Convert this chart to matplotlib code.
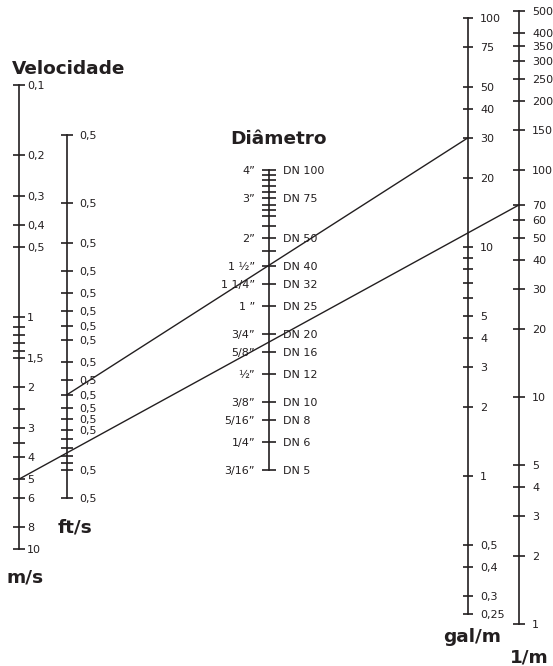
import matplotlib.pyplot as plt
from matplotlib.patches import ConnectionPatch
from matplotlib.ticker import NullFormatter

# velocity, m/s
ms_ticks = [0.1, 0.2, 0.3, 0.4, 0.5, 1, 1.5, 2, 3, 4, 5, 6, 8, 10]
ms_labels = ['0,1', '0,2', '0,3', '0,4', '0,5', '1', '1,5', '2', '3', '4', '5', '6', '8', '10']
ms_minor = [1.1, 1.2, 1.3, 1.4, 2.5, 3.5]

# velocity, ft/s (the original labels every tick "0,5")
fts_ticks = [0.5, 1, 1.5, 2, 2.5, 3, 3.5, 4, 5, 6, 7, 8, 9, 10, 15, 20]
fts_labels = ['0,5'] * len(fts_ticks)
fts_minor = [11, 12, 13, 14]

# diameter, inches / DN
dia_inch = [4, 3, 2, 1.5, 1.25, 1, 0.75, 0.625, 0.5, 0.375, 0.3125, 0.25, 0.1875]
dia_inch_labels = ['4”', '3”', '2”', '1 ½”', '1 1/4”', '1 ”', '3/4”', '5/8”',
                   '½”', '3/8”', '5/16”', '1/4”', '3/16”']
dia_dn_labels = ['DN 100', 'DN 75', 'DN 50', 'DN 40', 'DN 32', 'DN 25', 'DN 20',
                 'DN 16', 'DN 12', 'DN 10', 'DN 8', 'DN 6', 'DN 5']
dia_minor = [3.8, 3.6, 3.4, 3.2, 2.8, 2.65, 2.5, 2.25, 1.75]

# flow, gal/m
galm_ticks = [100, 75, 50, 40, 30, 20, 10, 5, 4, 3, 2, 1, 0.5, 0.4, 0.3, 0.25]
galm_labels = ['100', '75', '50', '40', '30', '20', '10', '5', '4', '3', '2', '1',
               '0,5', '0,4', '0,3', '0,25']
galm_minor = [9, 8, 7, 6]

# flow, l/m
lm_ticks = [500, 400, 350, 300, 250, 200, 150, 100, 70, 60, 50, 40, 30, 20, 10, 5, 4, 3, 2, 1]
lm_labels = [str(v) for v in lm_ticks]

# two example readings: (scale, value) -> (scale, value)
reading1 = ('fts', 7, 'galm', 30)
reading2 = ('ms', 5, 'lm', 70)

INK = '#231f20'
W, H = 553, 666
fig = plt.figure(figsize=(W / 100, H / 100), dpi=100)


def make_scale(x, top, bottom, lims, ticks, labels, minor=(), side='right',
               tick_len=8.6, pad=2.0, spine=True):
    # a log axis squeezed to a single vertical line at pixel column x
    ax = fig.add_axes([x / W, 1 - bottom / H, 1e-4, (bottom - top) / H])
    ax.set_yscale('log')
    ax.set_ylim(*lims)
    ax.set_yticks(ticks, labels)
    ax.set_yticks(list(minor), minor=True)
    ax.yaxis.set_minor_formatter(NullFormatter())
    ax.set_xticks([])
    for s in ['top', 'bottom', 'right']:
        ax.spines[s].set_visible(False)
    ax.spines['left'].set_visible(spine)
    ax.spines['left'].set_color(INK)
    ax.spines['left'].set_linewidth(1.2)
    ax.patch.set_visible(False)
    right = side == 'right'
    ax.tick_params(axis='y', which='both', direction='inout', length=tick_len,
                   width=1.2, color=INK, left=not right, right=right,
                   labelleft=not right, labelright=right,
                   labelsize=8, labelcolor=INK, pad=pad)
    return ax


axes = {}
axes['ms'] = make_scale(19, 85, 549, (10, 0.1), ms_ticks, ms_labels, ms_minor, pad=1.5)
axes['fts'] = make_scale(67, 135, 498, (20, 0.5), fts_ticks, fts_labels, fts_minor, pad=4.3)
axes['dia'] = make_scale(269, 170, 470, (0.1875, 4), dia_inch, dia_inch_labels, dia_minor,
                         side='left', tick_len=10, pad=5)
make_scale(269, 170, 470, (0.1875, 4), dia_inch, dia_dn_labels, side='right',
           tick_len=0, pad=10, spine=False)
axes['galm'] = make_scale(468, 18, 614, (0.25, 100), galm_ticks, galm_labels, galm_minor,
                          tick_len=7.2, pad=5)
axes['lm'] = make_scale(519, 11, 624, (1, 500), lm_ticks, lm_labels, pad=5)

for a, va, b, vb in [reading1, reading2]:
    con = ConnectionPatch(xyA=(0, va), coordsA=axes[a].transData,
                          xyB=(0, vb), coordsB=axes[b].transData,
                          color=INK, lw=1.0)
    fig.add_artist(con)

bold = dict(fontsize=13.3, fontweight='bold', color=INK, va='baseline', ha='left')
fig.text(12 / W, 1 - 74 / H, 'Velocidade', **bold)
fig.text(230 / W, 1 - 144 / H, 'Diâmetro', **bold)
fig.text(58 / W, 1 - 532 / H, 'ft/s', **bold)
fig.text(7 / W, 1 - 583 / H, 'm/s', **bold)
fig.text(443 / W, 1 - 642 / H, 'gal/m', **bold)
fig.text(510 / W, 1 - 663 / H, '1/m', **bold)

fig.savefig('out.png', dpi=100)
